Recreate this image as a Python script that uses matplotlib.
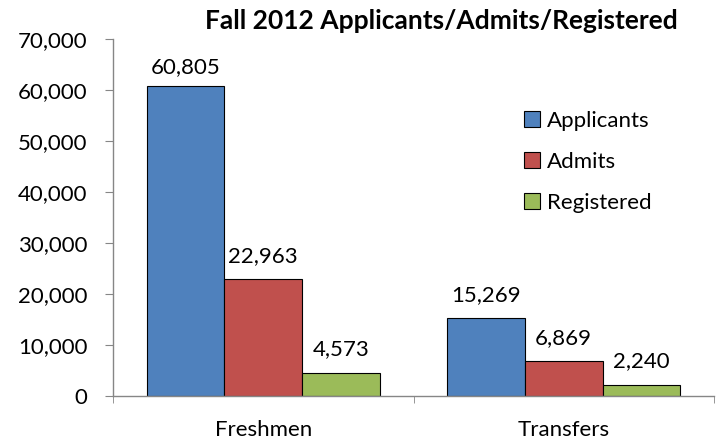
import matplotlib
matplotlib.use("Agg")
import matplotlib.pyplot as plt
import numpy as np

categories = ["Freshmen", "Transfers"]
series = ["Applicants", "Admits", "Registered"]
applicants = [60805, 15269]
admits = [22963, 6869]
registered = [4573, 2240]
yticks = [0, 10000, 20000, 30000, 40000, 50000, 60000, 70000]
title = "Fall 2012 Applicants/Admits/Registered"

colors = ["#4F81BD", "#C0504D", "#9BBB59"]
plt.rcParams['font.family'] = ['Lato', 'DejaVu Sans']

fig = plt.figure(figsize=(7.22, 4.40), dpi=100)
ax = fig.add_axes([113/722, 1 - 396/440, (714-113)/722, (396-39)/440])

x = np.arange(len(categories))
w = 0.258
ymax = yticks[-1]
label_limit = ymax * 0.855  # labels are kept inside the plot area, as in the original
data = [applicants, admits, registered]
for i, (name, vals, c) in enumerate(zip(series, data, colors)):
    pos = x + (i - 1) * w
    ax.bar(pos, vals, width=w, color=c, edgecolor="black", linewidth=0.8, label=name)
    for p, v in zip(pos, vals):
        ax.annotate(f"{v:,}", (p, min(v, label_limit)), xytext=(0, 9.5), textcoords="offset points",
                    ha="center", va="bottom", fontsize=16)

ax.set_xlim(-0.5, 1.5)
ax.set_ylim(0, ymax)
ax.set_yticks(yticks)
ax.set_yticklabels([f"{t:,}" for t in yticks], fontsize=16)
ax.set_xticks(x)
ax.set_xticklabels(categories, fontsize=16)
ax.set_xticks([-0.5, 0.5, 1.5], minor=True)
ax.tick_params(axis="x", which="major", length=0, pad=17)
ax.tick_params(axis="x", which="minor", length=5, color="#868686", direction="out")
ax.tick_params(axis="y", length=5.5, color="#868686", direction="out", pad=13)

for s in ["top", "right"]:
    ax.spines[s].set_visible(False)
for s in ["left", "bottom"]:
    ax.spines[s].set_color("#868686")
    ax.spines[s].set_linewidth(1)

fig.text(441/722, 1 - 21/440, title, ha="center", va="center", fontsize=19, fontweight="bold")

leg = ax.legend(loc="center left", bbox_to_anchor=(513/722, 1 - 162/440), bbox_transform=fig.transFigure,
                frameon=False, fontsize=16, handlelength=0.72, handleheight=0.72,
                labelspacing=0.95, handletextpad=0.3, borderpad=0)

fig.savefig("out.png", dpi=100)
